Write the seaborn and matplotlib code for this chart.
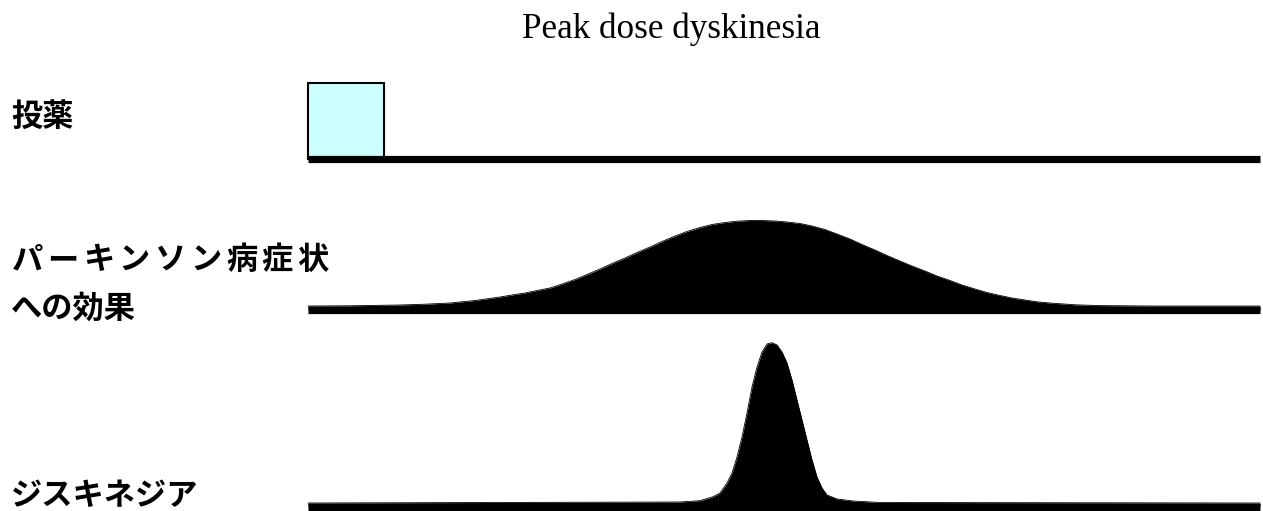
import numpy as np
import matplotlib
matplotlib.use("Agg")
import matplotlib.pyplot as plt
import seaborn as sns

# time in minutes after the dose, levels in arbitrary units
dose_start = 0
dose_length = 76
dose_level = 75.5

effect_t = [0, 42, 92, 117, 142, 167, 192, 204, 217, 229, 242, 254, 267, 279,
            292, 304, 317, 329, 342, 354, 367, 379, 392, 404, 417, 429, 442,
            454, 467, 479, 492, 504, 517, 529, 542, 554, 567, 579, 592, 604,
            617, 629, 642, 654, 667, 679, 692, 704, 717, 729, 742, 767, 792,
            842, 952]
effect_v = [4, 4.2, 5, 5.8, 7, 9.5, 13, 15, 17, 19.5, 22, 26, 30.5, 35.5, 41,
            46.5, 52, 57.5, 63, 68.5, 74, 78.5, 82.5, 85.5, 87.5, 88.8, 89.5,
            89.5, 89, 88, 86.5, 84, 80.5, 76, 71, 65.5, 60, 54.5, 49, 44, 39,
            34, 29.5, 25, 21, 17.5, 14.5, 12, 10, 8.2, 7, 5.2, 4.4, 4, 4]

dysk_t = [0, 372, 392, 405, 412, 419, 424, 429, 434, 439, 444, 449, 454, 459,
          464, 469, 474, 479, 484, 489, 494, 499, 504, 509, 514, 519, 529, 545,
          572, 952]
dysk_v = [3.5, 4.5, 5.8, 9.8, 13.5, 23.5, 33.5, 49.5, 69.5, 93.5, 119.5, 139.5,
          154.5, 162.5, 163.8, 161.5, 154.5, 143.5, 126.5, 106.5, 86.5, 66.5,
          46.5, 29.5, 18.5, 11.5, 7.5, 5.5, 4, 3.5]

title = "Peak dose dyskinesia"
row_labels = ["投薬", "パーキンソン病症状", "への効果", "ジスキネジア"]

sns.set_theme(style="white")
plt.rcParams['font.family'] = ['Noto Sans CJK JP', 'DejaVu Sans']

W, H = 1263, 511
fig = plt.figure(figsize=(W / 100, H / 100), dpi=100)

def px_axes(x0, x1, y_base, y_top):
    # axes placed in pixel units of the figure, origin top-left
    return fig.add_axes([x0 / W, 1 - y_base / H, (x1 - x0) / W, (y_base - y_top) / H])

ax1 = px_axes(308, 1260, 158.5, 83)
ax2 = px_axes(308, 1260, 310, 221)
ax3 = px_axes(308, 1260, 506.5, 343)

for ax, top in ((ax1, dose_level), (ax2, 89), (ax3, 163.5)):
    ax.set_xlim(0, 952)
    ax.set_ylim(0, top)
    ax.axis("off")
    ax.plot([0, 952], [0, 0], color="black", lw=5.2, solid_capstyle="butt",
            clip_on=False, zorder=3)

# dose box
ax1.bar([dose_start], [dose_level], width=dose_length, align="edge",
        color="#ccffff", edgecolor="black", linewidth=1.5, clip_on=False, zorder=2)

# anti-parkinson effect
ax2.fill_between(effect_t, 0, effect_v, color="black", lw=0, clip_on=False)
sns.lineplot(x=effect_t, y=effect_v, ax=ax2, color="black", lw=0.6,
             sort=False, estimator=None, legend=False)

# dyskinesia
ax3.fill_between(dysk_t, 0, dysk_v, color="black", lw=0, clip_on=False)
sns.lineplot(x=dysk_t, y=dysk_v, ax=ax3, color="black", lw=0.6,
             sort=False, estimator=None, legend=False)
for ax in (ax2, ax3):
    for ln in ax.lines:
        ln.set_clip_on(False)

fig.text(671 / W, 1 - 38 / H, title, family="Liberation Serif", fontsize=25.3,
         ha="center", va="baseline", color="black")

lab_kw = dict(fontsize=22.5, fontweight="bold", color="black", va="center")
fig.text(11 / W, 1 - 116.5 / H, row_labels[0], ha="left", **lab_kw)
for i, ch in enumerate(row_labels[1]):
    fig.text((27 + i * 35.75) / W, 1 - 260 / H, ch, ha="center", **lab_kw)
fig.text(11 / W, 1 - 309 / H, row_labels[2], ha="left", **lab_kw)
fig.text(11 / W, 1 - 496 / H, row_labels[3], ha="left", **lab_kw)

fig.savefig("out.png", dpi=100, facecolor="white")
